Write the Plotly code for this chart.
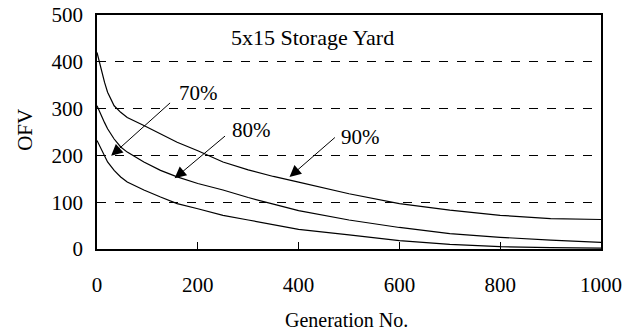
import plotly.graph_objects as go

generations = [0, 8, 15, 21, 34, 47, 60, 93, 126, 159, 200, 250, 300, 350, 400, 500, 600, 700, 800, 900, 1000]
ofv_90 = [420, 384, 356, 335, 306, 292, 281, 264, 246, 228, 210, 186, 169, 155, 143, 118, 97, 83, 72, 65, 63]
ofv_80 = [306, 285, 270, 257, 235, 218, 207, 186, 168, 154, 140, 126, 110, 96, 82, 62, 46, 33, 25, 19, 14]
ofv_70 = [232, 214, 199, 186, 168, 154, 143, 126, 111, 97, 86, 72, 62, 52, 42, 30, 18, 10, 5, 3, 2]

labels = ["70%", "80%", "90%"]
label_pos = [(202, 333), (307, 254), (523, 239)]
arrow_tail = [(148, 315), (257, 244), (475, 241)]
arrow_tip = [(28, 199), (154, 151), (382, 154)]

FONT = "Liberation Serif, Times New Roman, serif"

fig = go.Figure()
for ys in (ofv_90, ofv_80, ofv_70):
    fig.add_trace(go.Scatter(x=generations, y=ys, mode="lines",
                             line=dict(color="black", width=1.2),
                             showlegend=False, hoverinfo="skip"))

annotations = []
for lab, (lx, ly), (tx, ty), (hx, hy) in zip(labels, label_pos, arrow_tail, arrow_tip):
    annotations.append(dict(x=lx, y=ly, xref="x", yref="y", text=lab, showarrow=False,
                            xanchor="center", yanchor="middle",
                            font=dict(family=FONT, size=21, color="black")))
    annotations.append(dict(x=hx, y=hy, ax=tx, ay=ty, xref="x", yref="y", axref="x", ayref="y",
                            text="", showarrow=True, arrowhead=2, arrowsize=2.3, arrowwidth=1,
                            arrowcolor="black", standoff=0))
annotations.append(dict(x=427, y=453, xref="x", yref="y", text="5x15 Storage Yard", showarrow=False,
                        xanchor="center", yanchor="middle",
                        font=dict(family=FONT, size=22, color="black")))
annotations.append(dict(x=-0.143, y=0.509, xref="paper", yref="paper", text="OFV", showarrow=False,
                        xanchor="center", yanchor="middle",
                        textangle=-90, font=dict(family=FONT, size=21, color="black")))
annotations.append(dict(x=0.496, y=-0.303, xref="paper", yref="paper", text="Generation No.",
                        xanchor="center", yanchor="middle",
                        showarrow=False, font=dict(family=FONT, size=20, color="black")))

fig.update_layout(
    width=635, height=334,
    margin=dict(l=97, r=34, t=15, b=85, autoexpand=False),
    paper_bgcolor="white", plot_bgcolor="white",
    font=dict(family=FONT, size=21, color="black"),
    annotations=annotations,
    xaxis=dict(range=[0, 1000], tickvals=[0, 200, 400, 600, 800, 1000], automargin=False,
               showline=True, linecolor="black", linewidth=1.5, mirror=True,
               showgrid=False, zeroline=False, ticks="inside", ticklen=7, tickcolor="black",
               ticklabelstandoff=16),
    yaxis=dict(range=[0, 500], tickvals=[0, 100, 200, 300, 400, 500], automargin=False,
               showline=True, linecolor="black", linewidth=1.5, mirror=True,
               showgrid=True, gridcolor="black", gridwidth=1, griddash="dash",
               zeroline=False, ticks="", ticklabelstandoff=8),
)

fig.write_html("out.html")
